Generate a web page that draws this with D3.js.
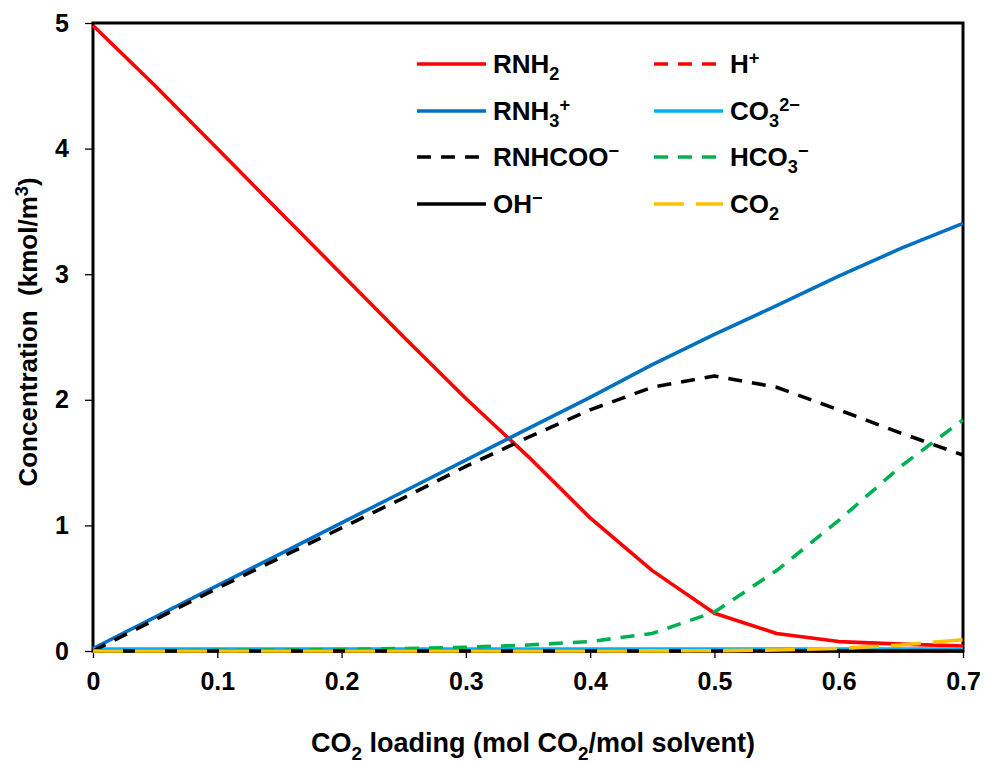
<!DOCTYPE html>
<html>
<head>
<meta charset="utf-8">
<script src="https://cdn.jsdelivr.net/npm/d3@7"></script>
<style>
  html, body { margin: 0; padding: 0; background: #fff; }
  svg { display: block; font-family: "Liberation Sans", Arial, sans-serif; font-weight: bold; }
</style>
</head>
<body>
<svg id="chart" width="985" height="763"></svg>
<script>
// CO2 loading (mol CO2 / mol solvent)
const loading = [0, 0.05, 0.10, 0.15, 0.20, 0.25, 0.30, 0.35, 0.40, 0.45, 0.50, 0.55, 0.60, 0.65, 0.70];

// Species concentrations (kmol/m3)
const rnh2   = [4.98, 4.50, 4.00, 3.50, 3.00, 2.50, 2.01, 1.55, 1.06, 0.64, 0.30, 0.14, 0.075, 0.055, 0.04];
const hPlus  = [0, 0, 0, 0, 0, 0, 0, 0, 0, 0, 0, 0, 0, 0, 0];
const rnh3   = [0.02, 0.27, 0.52, 0.77, 1.02, 1.27, 1.52, 1.77, 2.02, 2.28, 2.52, 2.75, 2.985, 3.205, 3.405];
const co3    = [0.015, 0.015, 0.015, 0.015, 0.015, 0.015, 0.015, 0.015, 0.015, 0.015, 0.015, 0.015, 0.015, 0.015, 0.015];
const rnhcoo = [0.0, 0.25, 0.50, 0.74, 0.98, 1.22, 1.47, 1.70, 1.92, 2.10, 2.19, 2.10, 1.92, 1.735, 1.56];
const hco3   = [0, 0.002, 0.005, 0.008, 0.012, 0.02, 0.03, 0.048, 0.075, 0.14, 0.31, 0.64, 1.04, 1.47, 1.84];
const ohMinus= [0, 0, 0, 0, 0, 0, 0, 0, 0, 0, 0, 0, 0, 0, 0];
const co2    = [0, 0, 0, 0, 0, 0, 0, 0, 0, 0.001, 0.002, 0.008, 0.02, 0.048, 0.09];

// Axis ticks
const xTicks = [0, 0.1, 0.2, 0.3, 0.4, 0.5, 0.6, 0.7];
const yTicks = [0, 1, 2, 3, 4, 5];

// Series table: label parts are [text, kind] with kind "n" normal, "sub", "sup"
const series = [
  { values: rnh2,    color: "#FF0000", dash: null,     label: [["RNH", "n"], ["2", "sub"]] },
  { values: hPlus,   color: "#FF0000", dash: "14,10",  label: [["H", "n"], ["+", "sup"]] },
  { values: rnh3,    color: "#0070C0", dash: null,     label: [["RNH", "n"], ["3", "sub"], ["+", "sup"]] },
  { values: co3,     color: "#00B0F0", dash: null,     label: [["CO", "n"], ["3", "sub"], ["2\u2212", "sup"]] },
  { values: rnhcoo,  color: "#000000", dash: "14,10",  label: [["RNHCOO", "n"], ["\u2212", "sup"]] },
  { values: hco3,    color: "#00B050", dash: "14,10",  label: [["HCO", "n"], ["3", "sub"], ["\u2212", "sup"]] },
  { values: ohMinus, color: "#000000", dash: null,     label: [["OH", "n"], ["\u2212", "sup"]] },
  { values: co2,     color: "#FFC000", dash: "30,12",  label: [["CO", "n"], ["2", "sub"]] }
];

const svg = d3.select("#chart");
const plot = { left: 93, top: 23, right: 963, bottom: 651 };

const x = d3.scaleLinear().domain([0, 0.7]).range([plot.left, plot.right]);
const y = d3.scaleLinear().domain([0, 5]).range([plot.bottom, plot.top]);

// Tick marks and labels
const xAxis = d3.axisBottom(x).tickValues(xTicks).tickSize(7).tickPadding(14)
  .tickFormat(d => d === 0 ? "0" : d3.format(".1f")(d));
const gx = svg.append("g").attr("transform", `translate(0,${plot.bottom})`).call(xAxis);
gx.select(".domain").remove();
gx.selectAll(".tick line").attr("stroke", "#000").attr("stroke-width", 1.3);
gx.selectAll(".tick text").attr("fill", "#000").attr("font-size", 25).attr("font-weight", "bold")
  .attr("font-family", "Liberation Sans, Arial, sans-serif").attr("dy", "0.71em");

const yAxis = d3.axisLeft(y).tickValues(yTicks).tickSize(8).tickPadding(16).tickFormat(d3.format("d"));
const gy = svg.append("g").attr("transform", `translate(${plot.left},0)`).call(yAxis);
gy.select(".domain").remove();
gy.selectAll(".tick line").attr("stroke", "#000").attr("stroke-width", 1.3);
gy.selectAll(".tick text").attr("fill", "#000").attr("font-size", 25).attr("font-weight", "bold")
  .attr("font-family", "Liberation Sans, Arial, sans-serif");

// Plot frame
svg.append("rect")
  .attr("x", plot.left).attr("y", plot.top)
  .attr("width", plot.right - plot.left).attr("height", plot.bottom - plot.top)
  .attr("fill", "none").attr("stroke", "#000").attr("stroke-width", 3);

// Series lines
const line = d3.line().x((d, i) => x(loading[i])).y(d => y(d));
series.forEach(s => {
  svg.append("path")
    .datum(s.values)
    .attr("d", line)
    .attr("fill", "none")
    .attr("stroke", s.color)
    .attr("stroke-width", 3.6)
    .attr("stroke-linejoin", "round")
    .attr("stroke-dasharray", s.dash);
});

// Rich label helper (subscripts / superscripts)
function richText(sel, parts, size) {
  let shift = 0;
  parts.forEach(([t, kind]) => {
    let target = 0, fs = size;
    if (kind === "sub") { target = size * 0.28; fs = size * 0.7; }
    if (kind === "sup") { target = -size * 0.36; fs = size * 0.7; }
    sel.append("tspan").attr("dy", target - shift).attr("font-size", fs).text(t);
    shift = target;
  });
}

// Legend: two columns, filled row-wise
const legCols = [{ lx: 417, tx: 493 }, { lx: 654, tx: 730 }];
const legRows = [64, 111, 157, 204];
series.forEach((s, i) => {
  const c = legCols[i % 2], ry = legRows[Math.floor(i / 2)];
  svg.append("line")
    .attr("x1", c.lx).attr("x2", c.lx + 69).attr("y1", ry).attr("y2", ry)
    .attr("stroke", s.color).attr("stroke-width", 3.6)
    .attr("stroke-dasharray", s.dash);
  const t = svg.append("text").attr("x", c.tx).attr("y", ry + 9)
    .attr("font-size", 26).attr("fill", "#000");
  richText(t, s.label, 26);
});

// Axis titles
const xt = svg.append("text").attr("x", (plot.left + plot.right) / 2 + 5).attr("y", 752)
  .attr("text-anchor", "middle").attr("font-size", 27).attr("fill", "#000");
richText(xt, [["CO", "n"], ["2", "sub"], [" loading (mol CO", "n"], ["2", "sub"], ["/mol solvent)", "n"]], 27);

const yt = svg.append("text")
  .attr("transform", `translate(37,${(plot.top + plot.bottom) / 2 - 5}) rotate(-90)`)
  .attr("text-anchor", "middle").attr("font-size", 26).attr("fill", "#000")
  .style("white-space", "pre");
richText(yt, [["Concentration  (kmol/m", "n"], ["3", "sup"], [")", "n"]], 26);
</script>
</body>
</html>
